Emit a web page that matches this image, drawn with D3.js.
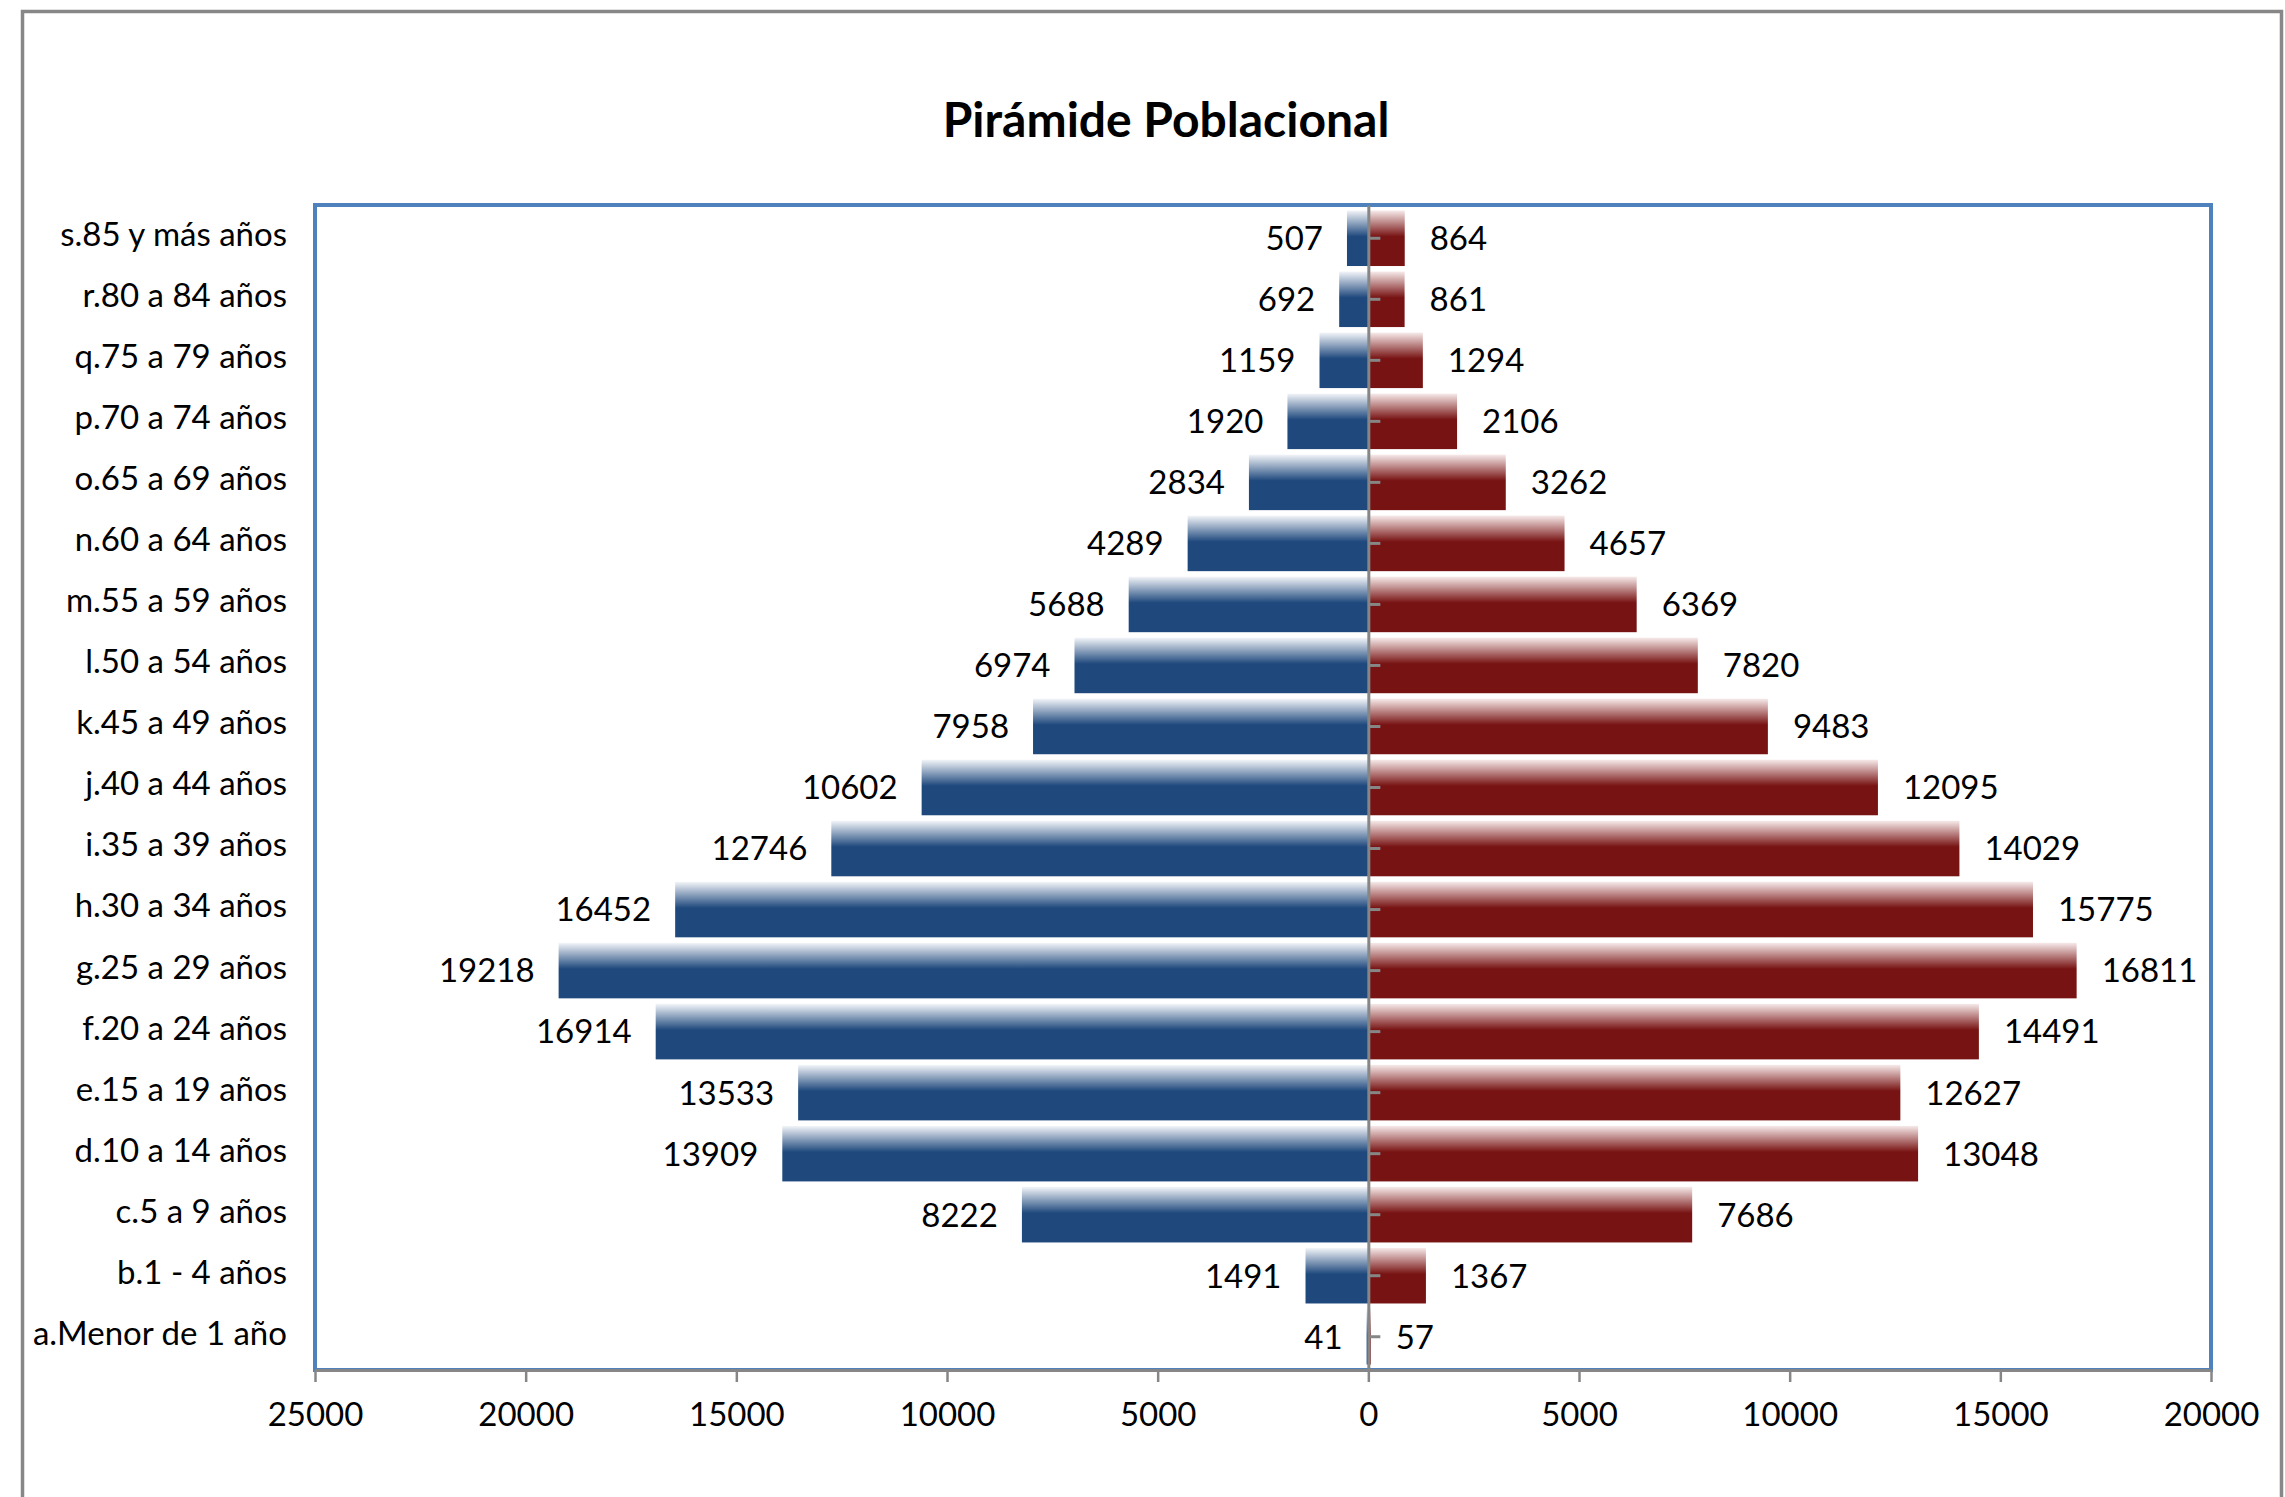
<!DOCTYPE html>
<html>
<head>
<meta charset="utf-8">
<script src="https://cdn.jsdelivr.net/npm/d3@7"></script>
<style>
  body { margin: 0; background: #fff; }
  svg text { font-family: Lato, "Open Sans", sans-serif; fill: #000; }
</style>
</head>
<body>
<svg width="2285" height="1497"></svg>
<script>
// Age groups, top to bottom as in the chart
var categories = ["s.85 y más años", "r.80 a 84 años", "q.75 a 79 años", "p.70 a 74 años",
  "o.65 a 69 años", "n.60 a 64 años", "m.55 a 59 años", "l.50 a 54 años", "k.45 a 49 años",
  "j.40 a 44 años", "i.35 a 39 años", "h.30 a 34 años", "g.25 a 29 años", "f.20 a 24 años",
  "e.15 a 19 años", "d.10 a 14 años", "c.5 a 9 años", "b.1 - 4 años", "a.Menor de 1 año"];

// left side (blue) and right side (red) counts
var leftValues = [507, 692, 1159, 1920, 2834, 4289, 5688, 6974, 7958, 10602, 12746, 16452,
  19218, 16914, 13533, 13909, 8222, 1491, 41];
var rightValues = [864, 861, 1294, 2106, 3262, 4657, 6369, 7820, 9483, 12095, 14029, 15775,
  16811, 14491, 12627, 13048, 7686, 1367, 57];

var xTicks = [-25000, -20000, -15000, -10000, -5000, 0, 5000, 10000, 15000, 20000];

var svg = d3.select("svg");

// outer chart border
svg.append("rect")
   .attr("x", 22.5).attr("y", 11.5)
   .attr("width", 2259).attr("height", 1520)
   .attr("fill", "none")
   .attr("stroke", "#878787")
   .attr("stroke-width", 3.5);

// title
svg.append("text")
   .attr("x", 1166)
   .attr("y", 137)
   .attr("text-anchor", "middle")
   .style("font-size", "48px")
   .style("font-weight", "bold")
   .text("Pirámide Poblacional");

var plotLeft = 315, plotRight = 2211, plotTop = 205, plotBottom = 1370;

var xScale = d3.scaleLinear().domain([-25000, 20000]).range([plotLeft, plotRight]);
var yScale = d3.scaleBand().domain(categories).range([plotTop, plotBottom]).padding(0.09);

// gradients for the bars
var defs = svg.append("defs");
function grad(id, light, dark) {
  var g = defs.append("linearGradient").attr("id", id)
              .attr("x1", 0).attr("y1", 0).attr("x2", 0).attr("y2", 1);
  g.append("stop").attr("offset", "0").attr("stop-color", light);
  g.append("stop").attr("offset", "0.47").attr("stop-color", dark);
  g.append("stop").attr("offset", "1").attr("stop-color", dark);
}
grad("blueGrad", "#f3f5f9", "#1f497d");
grad("redGrad", "#f7eaea", "#781313");

// plot area border
svg.append("rect")
   .attr("x", plotLeft).attr("y", plotTop)
   .attr("width", plotRight - plotLeft).attr("height", plotBottom - plotTop)
   .attr("fill", "none")
   .attr("stroke", "#4f81bd")
   .attr("stroke-width", 4);

var leftData = categories.map(function(c, i) { return {cat: c, v: leftValues[i]}; });
var rightData = categories.map(function(c, i) { return {cat: c, v: rightValues[i]}; });

// bars
svg.selectAll(".barL")
   .data(leftData)
   .enter().append("rect")
   .attr("class", "barL")
   .attr("x", function(d) { return xScale(-d.v); })
   .attr("y", function(d) { return yScale(d.cat); })
   .attr("width", function(d) { return xScale(0) - xScale(-d.v); })
   .attr("height", yScale.bandwidth())
   .attr("fill", "url(#blueGrad)");

svg.selectAll(".barR")
   .data(rightData)
   .enter().append("rect")
   .attr("class", "barR")
   .attr("x", xScale(0))
   .attr("y", function(d) { return yScale(d.cat); })
   .attr("width", function(d) { return xScale(d.v) - xScale(0); })
   .attr("height", yScale.bandwidth())
   .attr("fill", "url(#redGrad)");

// value labels
svg.selectAll(".lblL")
   .data(leftData)
   .enter().append("text")
   .attr("class", "lblL")
   .attr("x", function(d) { return xScale(-d.v) - 24; })
   .attr("y", function(d) { return yScale(d.cat) + yScale.bandwidth() / 2; })
   .attr("dy", "0.36em")
   .attr("text-anchor", "end")
   .style("font-size", "33px")
   .text(function(d) { return d.v; });

svg.selectAll(".lblR")
   .data(rightData)
   .enter().append("text")
   .attr("class", "lblR")
   .attr("x", function(d) { return xScale(d.v) + 25; })
   .attr("y", function(d) { return yScale(d.cat) + yScale.bandwidth() / 2; })
   .attr("dy", "0.36em")
   .attr("text-anchor", "start")
   .style("font-size", "33px")
   .text(function(d) { return d.v; });

// category labels on the left (sit a little above the bar centres)
var catAxis = svg.append("g")
   .attr("transform", "translate(" + plotLeft + ",0)")
   .call(d3.axisLeft(yScale).tickSize(0).tickPadding(28));
catAxis.select(".domain").remove();
catAxis.selectAll("text")
   .attr("dy", "0.24em")
   .style("font-size", "33px")
   .style("font-family", "Lato, 'Open Sans', sans-serif");

// vertical axis at zero
var zeroAxis = svg.append("g")
   .attr("transform", "translate(" + xScale(0) + ",0)")
   .call(d3.axisRight(yScale).tickSize(12).tickSizeOuter(0).tickFormat(""));
zeroAxis.select(".domain").attr("stroke", "#868686").attr("stroke-width", 3);
zeroAxis.selectAll(".tick line").attr("stroke", "#868686").attr("stroke-width", 3);

// bottom axis
var xAxis = svg.append("g")
   .attr("transform", "translate(0," + plotBottom + ")")
   .call(d3.axisBottom(xScale).tickValues(xTicks).tickSize(12).tickSizeOuter(0).tickPadding(21)
           .tickFormat(function(d) { return Math.abs(d); }));
xAxis.select(".domain").attr("stroke", "#868686").attr("stroke-width", 3);
xAxis.selectAll(".tick line").attr("stroke", "#868686").attr("stroke-width", 2.5);
xAxis.selectAll("text")
   .style("font-size", "33px")
   .style("font-family", "Lato, 'Open Sans', sans-serif")
   .attr("fill", "#000");
</script>
</body>
</html>
